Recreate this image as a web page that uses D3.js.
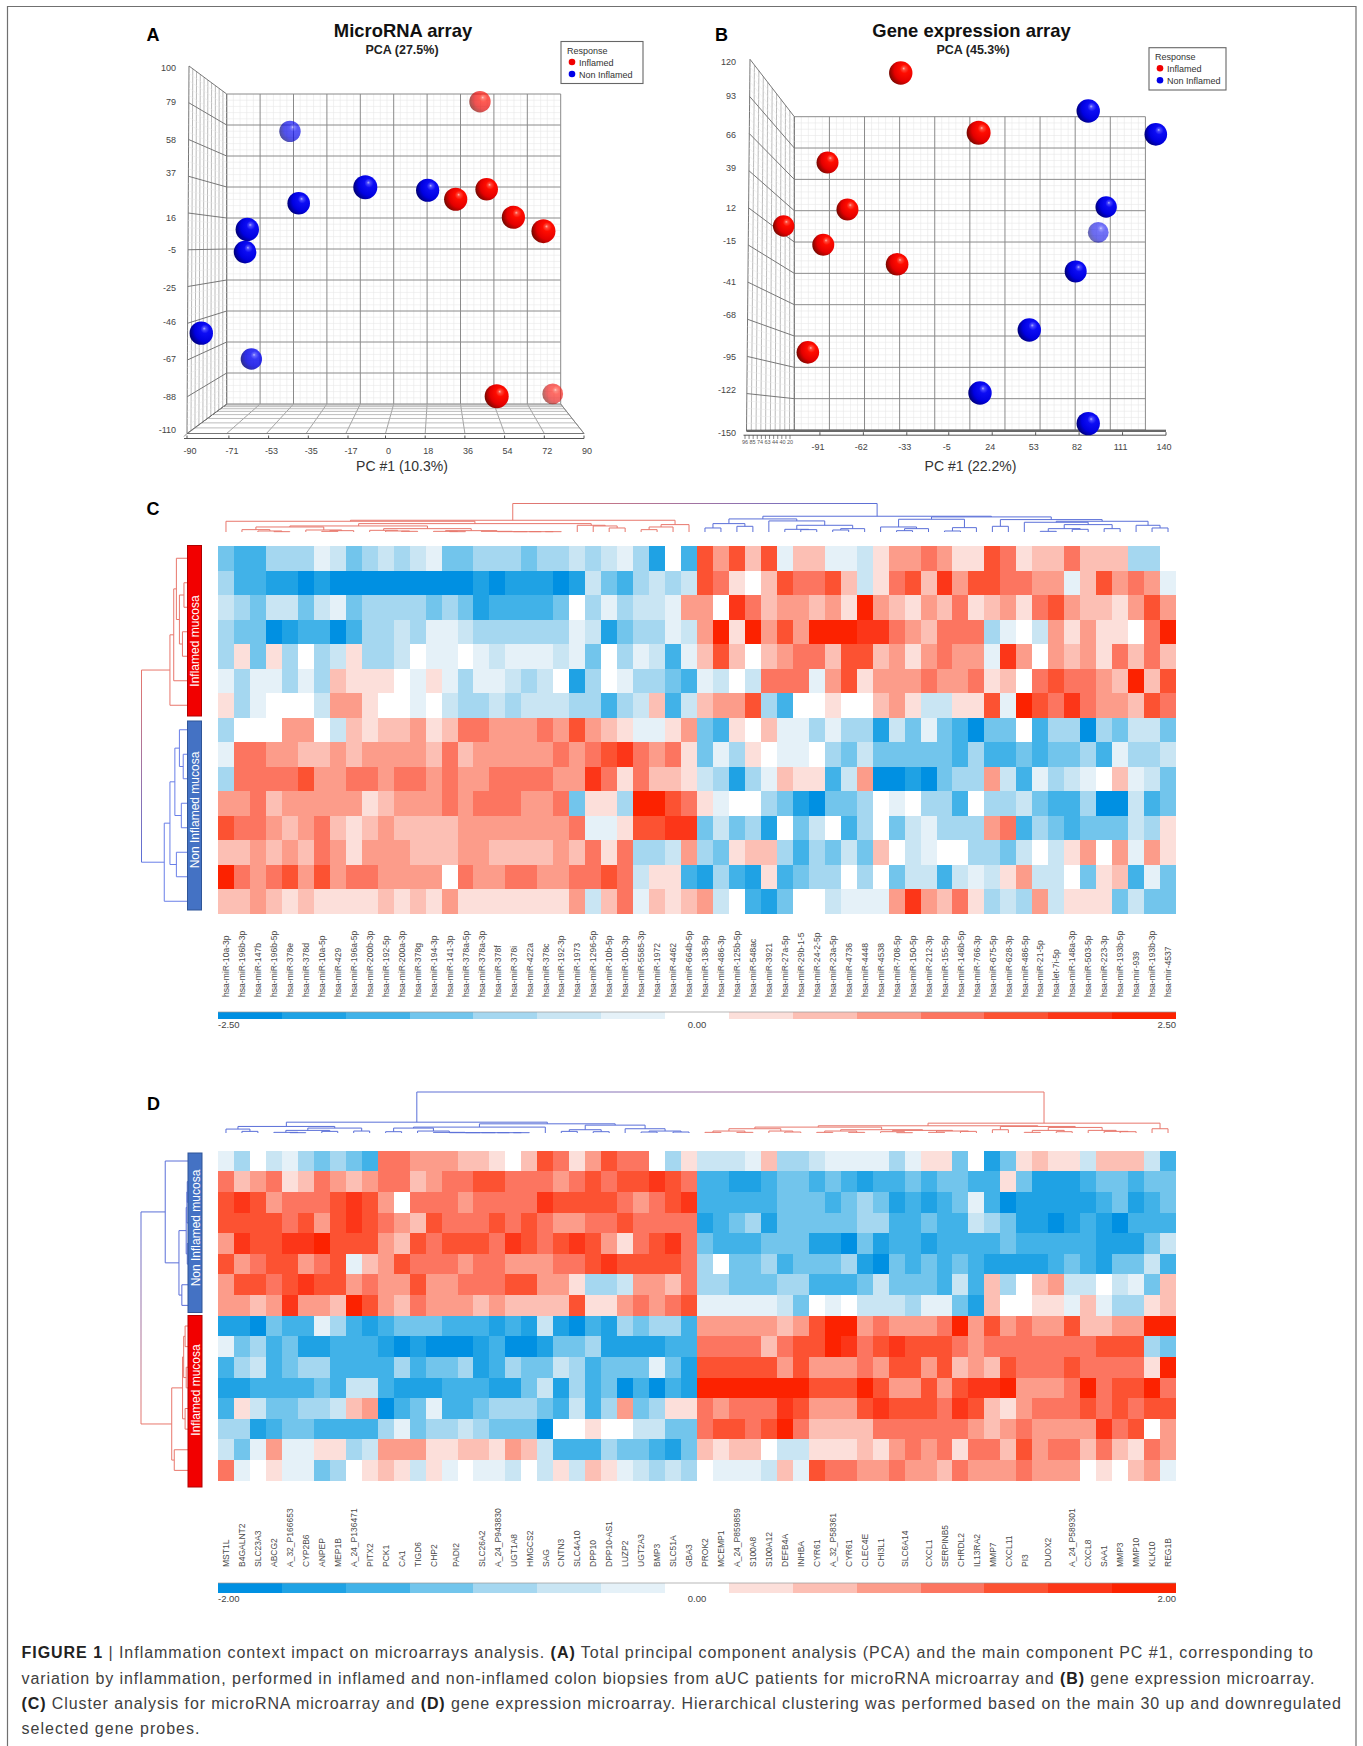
<!DOCTYPE html>
<html><head><meta charset="utf-8">
<script src="https://cdn.jsdelivr.net/npm/d3@7/dist/d3.min.js"></script>
<style>html,body{margin:0;padding:0;background:#fff}svg{display:block}text{font-family:"Liberation Sans",Arial,sans-serif}</style>
</head><body><svg id="fig" width="1363" height="1746"></svg>
<script>
// ---------- PCA data (PC1, PC2, radius weight, opacity) ----------
const pcaA_inflamed=[[46.5,94.8,10.7,.68],[50.1,35.5,11.3,1],[33.4,28.7,11.6,1],[64.5,16.5,11.6,1],[80.7,7.1,12,1],[55.5,-104.8,12,1],[85.7,-103.2,10.4,.6]];
const pcaA_non=[[-55.9,74.7,10.7,.68],[-15.3,36.8,12,1],[18.3,34.8,11.6,1],[-51.2,26,11.3,1],[-78.9,8.2,11.7,1],[-80.1,-7.1,11.3,1],[-103.7,-62,11.7,1],[-76.7,-79.5,10.7,.82]];
const pcaB_inflamed=[[-55.1,157.6,11.7,1],[7,106.2,12,1],[-113.5,80.6,11,1],[-97.6,40.1,11,1],[-148.5,25.8,10.7,1],[-116.9,9.7,11,1],[-58,-7.2,11.3,1],[-129.2,-83.1,11.3,1]];
const pcaB_non=[[94.4,124.9,11.7,1],[148.3,104.8,11.3,1],[108.7,42.2,10.7,1],[102.4,20.3,10.4,.58],[84.4,-13.3,11,1],[47.4,-63.8,11.7,1],[8.1,-118.1,11.7,1],[94.4,-144.5,11.7,1]];
const pcaA_xTicks=[-90,-71,-53,-35,-17,0,18,36,54,72,90];
const pcaA_yTicks=[100,79,58,37,16,-5,-25,-46,-67,-88,-110];
const pcaB_xTicks=[-140,-120,-91,-62,-33,-5,24,53,82,111,140];
const pcaB_yTicks=[120,93,66,39,12,-15,-41,-68,-95,-122,-150];
const responseLabels=["Inflamed","Non Inflamed"];

// ---------- Heat map C: levels -7..7, 15 rows x 60 columns ----------
const heatC=[
[-4,-5,-5,-3,-3,-3,-1,-2,-4,-3,-2,-3,-2,-1,-4,-4,-3,-3,-3,-4,-3,-3,-2,-3,-2,-1,-3,-6,0,-5,5,3,5,2,5,-1,2,2,-1,-1,-2,1,3,3,4,3,1,1,5,4,1,2,2,4,2,2,2,-3,-3,0],
[-3,-5,-5,-6,-6,-7,-6,-7,-7,-7,-7,-7,-7,-7,-7,-7,-6,-7,-6,-6,-6,-7,-6,-2,-4,-5,-3,-2,-3,-2,5,4,1,0,2,5,4,4,5,2,-2,1,4,5,2,6,3,5,5,4,4,3,3,-1,2,5,3,4,3,-1],
[-2,-3,-4,-2,-2,-4,-2,-1,-4,-3,-3,-3,-3,-4,-3,-4,-6,-5,-5,-5,-5,-4,0,-3,-1,-3,-2,-2,-1,3,3,0,6,4,2,3,3,2,3,1,7,3,2,1,3,2,4,1,2,3,1,4,5,3,2,2,1,3,5,3],
[-3,-4,-4,-7,-6,-5,-5,-7,-5,-3,-3,-2,-3,-1,-1,-2,-3,-3,-3,-3,-3,-3,-1,-2,-6,-4,-3,-3,-1,-2,3,7,1,7,3,5,3,7,7,7,6,6,4,3,2,4,4,4,-3,-1,0,-2,3,1,3,1,1,0,4,7],
[-3,1,-4,1,-3,0,-3,-2,1,-3,-3,-2,0,-1,-1,0,-1,-2,-1,-1,-1,-2,-1,-4,0,-3,-1,-2,-5,-1,2,5,2,0,2,3,4,4,2,5,5,2,3,1,3,4,3,3,-1,6,3,0,3,2,3,1,4,2,4,2],
[-1,-3,-1,-1,-3,-1,-3,2,1,1,1,0,-1,1,-1,-3,-1,-1,-2,-3,-2,0,-6,-3,0,-1,-3,-3,-4,-5,-1,-2,0,-2,4,4,4,-1,3,5,1,3,3,3,4,3,3,4,1,2,0,4,5,4,4,3,2,7,2,5],
[1,-3,-1,0,0,0,-2,3,3,1,0,0,-1,0,-2,-3,-3,-2,-3,-2,-2,-2,-3,-3,-5,-3,-2,2,-5,-2,2,3,3,5,-3,-5,0,0,1,0,0,2,3,1,-2,-2,1,1,5,-1,7,5,4,6,4,3,3,2,5,4],
[-3,0,0,0,3,3,0,-2,2,1,2,2,3,1,2,4,4,3,3,3,4,3,5,3,2,1,-1,-1,1,3,-4,-5,1,0,2,-1,-1,-3,-1,-3,-3,-6,-2,-4,-1,-4,-5,-7,-4,-4,0,-5,-3,-3,-7,-3,-4,-2,-2,-4],
[-1,4,4,3,3,2,2,3,2,3,3,3,3,2,4,2,3,3,3,3,3,4,3,4,5,6,4,3,4,1,-4,-1,-3,1,0,-1,-1,0,-3,-4,-2,-4,-4,-4,-4,-4,-5,-3,-5,-5,-4,-5,-4,-4,-3,-5,-1,-3,-3,-2],
[-3,4,4,4,4,5,3,3,4,4,3,4,4,3,4,3,3,4,4,4,4,3,3,6,4,1,4,2,2,1,-2,-3,-6,-3,-1,2,1,1,-5,-2,3,-7,-7,-6,-7,-4,-3,-3,3,-2,-5,-1,-3,-2,-1,0,2,-1,-2,-4],
[3,3,4,2,3,3,3,3,3,1,2,3,3,3,4,3,4,4,4,3,3,4,-4,1,1,-3,7,7,5,4,1,-1,0,0,-3,-4,-6,-7,-4,-4,-3,0,-1,0,-3,-3,-5,0,-3,-3,-2,-4,-5,-5,-3,-7,-7,-2,-5,-4],
[5,4,4,3,2,3,4,2,1,2,3,2,2,2,2,3,3,3,3,3,3,3,4,-1,-1,1,5,5,6,6,-4,-2,-4,-3,-6,0,-4,-2,0,-5,-3,0,-4,-2,-1,-3,-3,-3,3,4,-5,-3,-4,-5,-4,-4,-4,-2,-3,1],
[2,2,3,2,3,2,4,3,1,3,3,3,2,2,2,3,3,2,2,2,2,3,2,4,1,4,-3,-3,-2,3,-3,-4,1,2,2,-3,-5,-3,-4,-2,-4,2,0,-2,-1,0,0,-3,-3,-4,-2,0,-2,1,3,0,3,-1,3,1],
[7,4,3,4,5,3,5,3,4,4,3,3,3,3,0,4,3,3,4,4,3,3,4,4,5,4,-2,1,1,-5,-6,-3,-5,-6,1,-5,-4,-3,-3,0,-3,0,-4,-2,-2,-5,-2,-1,-2,1,3,-2,-2,0,-4,1,2,-5,-1,-4],
[2,2,3,2,1,2,1,1,1,1,2,1,2,1,3,1,1,1,1,1,1,1,3,-2,2,4,-1,2,1,2,3,-2,0,-5,-6,-4,0,0,-2,-1,-1,-1,3,6,3,2,4,1,-3,-2,-3,3,-2,1,1,1,-4,-2,-4,-4]
];
// ---------- Heat map D: levels -7..7, 16 rows x 60 columns ----------
const heatD=[
[-1,-3,0,-2,-1,-3,-4,-3,-4,-5,4,4,3,3,3,2,2,1,0,2,5,4,1,3,5,4,4,0,-3,1,-2,-2,-2,-1,2,-3,-3,-2,-1,-1,-1,-1,-3,-1,1,1,-4,0,-6,-4,1,2,1,1,-2,2,2,2,-2,-5],
[4,2,3,4,1,2,4,3,2,3,4,4,2,3,4,4,5,5,4,4,4,3,4,5,4,5,5,6,5,4,-5,-5,-6,-6,-5,-4,-4,-5,-4,-5,-6,-5,-5,-4,-5,-4,-4,-5,-5,1,-4,-6,-6,-6,-5,-4,-4,-5,-4,-4],
[5,6,5,3,4,4,4,5,6,5,3,0,4,4,4,3,4,4,4,4,6,5,5,5,5,4,3,4,5,6,-5,-5,-5,-5,-5,-4,-4,-4,-5,-4,-3,-4,-6,-5,-6,-5,-4,-1,-5,-7,-6,-6,-6,-6,-6,-5,-4,-6,-5,-4],
[5,5,5,5,4,5,3,5,6,5,4,3,2,5,4,4,4,5,4,5,4,3,3,4,4,5,4,4,4,4,-6,-5,-4,-3,-6,-4,-4,-4,-4,-4,-3,-3,-5,-5,-4,-5,-5,-2,-3,-4,-6,-6,-7,-6,-5,-6,-7,-5,-5,-5],
[3,6,5,5,6,6,7,5,5,5,3,2,5,4,5,5,5,4,6,5,4,5,6,5,3,1,4,5,6,4,-4,-5,-5,-5,-4,-4,-4,-6,-6,-7,-4,-6,-5,-5,-6,-5,-5,-5,-5,-4,-5,-5,-5,-5,-5,-6,-6,-6,-4,-2],
[5,3,4,5,5,3,4,5,-1,2,3,5,4,4,4,3,4,4,3,3,3,4,4,5,6,5,5,5,5,4,-3,0,-4,-4,-3,-5,-4,-4,-4,-3,-6,-7,-4,-5,-4,-5,-4,-5,-6,-6,-6,-6,-5,-4,-5,-6,-4,-4,-2,-5],
[3,5,5,4,5,6,5,5,3,4,3,3,5,3,3,4,4,4,5,5,3,3,1,-3,-3,-2,3,3,2,4,-3,-3,-4,-4,-4,-3,-3,-5,-5,-5,-4,-2,-4,-4,-4,-5,-2,-5,2,-3,0,2,3,-2,-2,0,-2,-1,-4,2],
[3,3,2,3,6,3,3,2,7,5,3,2,4,3,3,3,2,3,2,2,2,2,5,1,1,3,4,3,4,5,-1,-1,-1,-1,-1,-2,-4,0,-1,0,-2,-2,-2,-3,-1,-1,-4,-6,2,0,0,1,1,-1,2,-1,-3,-3,1,2],
[-6,-6,-7,-4,-5,-5,-1,-3,-5,-6,-5,-4,-4,-4,-5,-5,-5,-6,-5,-6,-2,-6,-7,-5,-6,-3,-4,-3,-3,-5,3,3,3,3,3,2,3,5,7,7,3,4,3,3,3,4,7,3,5,3,4,3,3,5,2,2,3,3,7,7],
[-1,-4,-3,-5,-4,-6,-6,-5,-5,-5,-6,-7,-6,-7,-7,-7,-6,-5,-7,-7,-6,-4,-4,-3,-6,-6,-6,-6,-5,-5,4,4,4,4,2,4,5,5,7,6,4,5,6,5,5,5,4,3,4,4,4,4,4,4,4,5,5,5,-3,-4],
[-5,-3,-2,-5,-4,-3,-3,-5,-5,-5,-5,-3,-5,-4,-4,-3,-6,-5,-3,-4,-4,-2,-3,-5,-4,-4,-4,-1,-4,-6,5,5,5,5,5,3,5,3,3,3,4,3,5,5,3,5,2,3,2,5,4,4,4,5,4,4,4,4,1,7],
[-6,-6,-5,-5,-5,-5,-4,-5,-2,-2,-5,-6,-6,-6,-5,-5,-5,-6,-6,-4,-2,-6,-3,-5,-4,-7,-5,-7,-5,-6,7,7,7,7,7,7,7,5,5,5,7,5,3,3,5,3,5,6,6,7,3,3,3,4,7,4,5,5,7,4],
[-5,1,-2,-4,-4,-3,-3,-2,2,3,-7,-5,-4,-1,-5,-5,-4,-3,-3,-3,-4,-5,-2,-5,-3,3,-4,-3,1,1,4,3,4,4,4,6,5,3,3,3,5,6,5,5,5,4,6,5,2,1,3,4,4,4,5,4,5,4,5,5],
[-3,-3,-6,-5,-4,-4,-5,-5,-5,-5,-3,-1,-4,-3,-3,-2,-3,-4,-4,-4,-7,0,0,1,0,0,-2,-2,-4,-4,4,5,5,4,5,7,4,2,2,2,2,4,4,4,4,4,4,3,2,3,4,3,3,3,3,6,4,5,0,3],
[-2,-4,-1,3,-1,-1,1,1,-3,-2,3,3,3,1,1,2,2,1,3,2,-2,-5,-5,-5,-3,-4,-4,-5,-6,-4,2,1,2,2,0,-2,-2,1,1,1,2,1,3,4,3,4,1,4,4,2,5,3,4,4,2,4,2,1,4,3],
[4,-1,0,1,-1,-1,-4,-3,0,1,2,1,-2,1,-1,0,-1,-1,-2,0,-2,1,-2,2,1,-1,-2,-3,-2,-3,0,-1,-1,-1,-2,2,-1,5,4,4,3,3,4,3,3,2,4,3,3,3,4,3,3,3,0,1,0,2,3,-1]
];
const labelsC=["hsa-miR-10a-3p","hsa-miR-196b-3p","hsa-miR-147b","hsa-miR-196b-5p","hsa-miR-378e","hsa-miR-378d","hsa-miR-10a-5p","hsa-miR-429","hsa-miR-196a-5p","hsa-miR-200b-3p","hsa-miR-192-5p","hsa-miR-200a-3p","hsa-miR-378g","hsa-miR-194-3p","hsa-miR-141-3p","hsa-miR-378a-5p","hsa-miR-378a-3p","hsa-miR-378f","hsa-miR-378i","hsa-miR-422a","hsa-miR-378c","hsa-miR-192-3p","hsa-miR-1973","hsa-miR-1296-5p","hsa-miR-10b-5p","hsa-miR-10b-3p","hsa-miR-5585-3p","hsa-miR-1972","hsa-miR-4462","hsa-miR-664b-5p","hsa-miR-138-5p","hsa-miR-486-3p","hsa-miR-125b-5p","hsa-miR-548ac","hsa-miR-3921","hsa-miR-27a-5p","hsa-miR-29b-1-5","hsa-miR-24-2-5p","hsa-miR-23a-5p","hsa-miR-4736","hsa-miR-4448","hsa-miR-4538","hsa-miR-708-5p","hsa-miR-150-5p","hsa-miR-212-3p","hsa-miR-155-5p","hsa-miR-146b-5p","hsa-miR-766-3p","hsa-miR-675-5p","hsa-miR-628-3p","hsa-miR-486-5p","hsa-miR-21-5p","hsa-let-7i-5p","hsa-miR-148a-3p","hsa-miR-503-5p","hsa-miR-223-3p","hsa-miR-193b-5p","hsa-mir-939","hsa-miR-193b-3p","hsa-mir-4537"];
const labelsD=["MST1L","B4GALNT2","SLC23A3","ABCG2","A_32_P166653","CYP2B6","ANPEP","MEP1B","A_24_P136471","PITX2","PCK1","CA1","TIGD6","CHP2","PADI2","SLC26A2","A_24_P943830","UGT1A8","HMGCS2","SAG","CNTN3","SLC4A10","DPP10","DPP10-AS1","LUZP2","UGT2A3","BMP3","SLC51A","GBA3","PROK2","MCEMP1","A_24_P859859","S100A8","S100A12","DEFB4A","INHBA","CYR61","A_32_P58361","CYR61","CLEC4E","CHI3L1","SLC6A14","CXCL1","SERPINB5","CHRDL2","IL13RA2","MMP7","CXCL11","PI3","DUOX2","A_24_P589301","CXCL8","SAA1","MMP3","MMP10","KLK10","REG1B"];
const labelColsD=[0,1,2,3,4,5,6,7,8,9,10,11,12,13,14.4,16,17,18,19,20,21,22,23,24,25,26,27,28,29,30,31,32,33,34,35,36,37,38,39,40,41,42.5,44,45,46,47,48,49,50,51.5,53,54,55,56,57,58,59];
const heatPalette=["#0090e2","#1fa2e4","#41b2e8","#72c5ec","#a5d7f0","#c9e5f3","#e5f1f8","#ffffff","#fcdfda","#fcbfb4","#fc9c8a","#fc7560","#fc5232","#fc3618","#fc2200"];

// Dendrograms: nested [mergeHeight, left, right]; a plain number is a leaf index
const treeTopC=[85,
 [35,[32,0,[25,[18,[15,[7,1,[3,2,[1,3,4]]],[6,5,[4,[2,6,7],8]]],[10,[5,9,[3,10,[2,11,12]]],[4,[2,13,[1,14,15]],[2,16,[1,17,[1,18,[1,19,[1,20,21]]]]]]]],[20,22,[18,23,[12,24,25]]]]],[22,[15,[7,26,27],28],29]],
 [47,[39,[25,[12,30,31],[17,32,33]],[33,34,[20,[8,35,[7,36,37]],[10,[6,38,39],40]]]],
     [45,[38,[15,41,[10,[4,42,43],44]],[13,[3,45,46],47]],[37,[17,48,49],[32,[29,50,[22,[10,[2,51,52],[8,53,54]],[10,55,56]]],[20,57,[12,58,59]]]]]]];
const treeTopD=[125,
 [33,[20,[12,0,[5,1,2]],[15,[8,[2,3,[1,4,5]],[5,6,7]],[6,8,9]]],
     [28,[18,[15,[4,10,11],[6,12,[2,13,[1,14,[1,15,[1,16,[1,17,[1,18,19]]]]]]]],20],
         [24,[10,[5,21,22],[4,23,24]],[13,25,[6,[3,26,27],[3,28,29]]]]]],
 [30,[22,[18,[13,[6,[2,30,31],[2,32,33]],[6,34,[3,35,36]]],[10,[6,[2,37,38],[2,39,40]],[8,[4,41,[1,42,43]],[6,[2,44,45],[5,46,47]]]]],
         [20,[10,48,49],[17,[8,[2,50,51],[4,52,53]],[8,54,[5,55,[4,56,57]]]]]],
     [13,58,59]]];
const treeSideC=[120,
 [45,[35,[28,0,[20,[8,1,2],[12,3,4]]],5],6],
 [60,[45,[32,[20,7,[10,8,9]],[15,10,11]],[28,12,13]],14]];
const treeSideD=[130,
 [63,0,[25,[5,[3,[2,1,2],3],[2,4,5]],[17,6,7]]],
 [45,[15,[12,[8,8,9],[5,10,11]],[8,12,13]],[38,14,15]]];

const captionLines=[
 [["FIGURE 1",1]," | Inflammation context impact on microarrays analysis. ",["(A)",1]," Total principal component analysis (PCA) and the main component PC #1, corresponding to"],
 ["variation by inflammation, performed in inflamed and non-inflamed colon biopsies from aUC patients for microRNA microarray and ",["(B)",1]," gene expression microarray."],
 [["(C)",1]," Cluster analysis for microRNA microarray and ",["(D)",1]," gene expression microarray. Hierarchical clustering was performed based on the main 30 up and downregulated"],
 ["selected gene probes."]];

// ---------- drawing ----------
const svg=d3.select("#fig");
const defs=svg.append("defs");
function sphereGrad(id,c){const g=defs.append("radialGradient").attr("id",id).attr("cx",.8).attr("cy",.42).attr("r",.95).attr("fx",.62).attr("fy",.3);
 c.forEach(([o,col])=>g.append("stop").attr("offset",o).attr("stop-color",col));}
sphereGrad("gr",[[0,"#ffb4ac"],[.07,"#ff4838"],[.2,"#ff0c00"],[.52,"#e40000"],[.8,"#7a0800"],[1,"#140000"]]);
sphereGrad("gb",[[0,"#b4b4ff"],[.07,"#4848ff"],[.2,"#0c0cf4"],[.52,"#0000e0"],[.8,"#00007a"],[1,"#000020"]]);
function rootGradient(id,c0,c1){const g=defs.append("linearGradient").attr("id",id).attr("gradientUnits","userSpaceOnUse");
 g.append("stop").attr("offset",0).attr("stop-color",c0);g.append("stop").attr("offset",1).attr("stop-color",c1);}
const RED="#e8776c",BLUE="#5a6fd8";
rootGradient("rootC",RED,BLUE);rootGradient("rootD",BLUE,RED);rootGradient("rootVC",RED,BLUE);rootGradient("rootVD",BLUE,RED);

// frame
svg.append("path").attr("d","M7.5,1746V6.5H1356V1746").attr("fill","none").attr("stroke","#707070").attr("stroke-width",1.2);

function line(g,x1,y1,x2,y2,stroke,w){g.append("line").attr("x1",x1).attr("y1",y1).attr("x2",x2).attr("y2",y2).attr("stroke",stroke).attr("stroke-width",w);}

function pca(o){
 const g=svg.append("g");
 const x=d3.scaleLinear().domain(o.xDom).range(o.wall.x);
 const y=d3.scaleLinear().domain(o.yDom).range(o.wall.y);
 const w=o.wall, f=o.front;
 const fr=t=>f.bx+(f.rx-f.bx)*t;
 const divs=d3.range(0,1.0001,.1), minor=d3.range(0,1.0001,.02);
 const wx=t=>w.x[0]+(w.x[1]-w.x[0])*t, wy=t=>w.y[1]+(w.y[0]-w.y[1])*t;
 const lwTop=t=>[f.tx+(w.x[0]-f.tx)*t, f.ty+(w.y[1]-f.ty)*t];
 const lwBot=t=>[f.bx+(w.x[0]-f.bx)*t, f.by+(w.y[0]-f.by)*t];
 minor.forEach(t=>{if(Math.round(t*50)%5){line(g,wx(t),w.y[1],wx(t),w.y[0],"#e8e8e8",.6);line(g,w.x[0],wy(t),w.x[1],wy(t),"#e8e8e8",.6);}});
 divs.forEach(t=>{line(g,wx(t),w.y[1],wx(t),w.y[0],"#8a8a8a",1);line(g,w.x[0],wy(t),w.x[1],wy(t),"#8a8a8a",1);});
 d3.range(0,1.0001,.1).forEach(t=>{const a=lwTop(t),b=lwBot(t);line(g,a[0],a[1],b[0],b[1],t==0||t==1?"#777":"#aaa",t==0||t==1?1:.8);});
 divs.forEach(t=>{const a=[f.tx+(f.bx-f.tx)*t,f.ty+(f.by-f.ty)*t],b=[w.x[0],w.y[1]+(w.y[0]-w.y[1])*t];line(g,a[0],a[1],b[0],b[1],"#777",1);});
 d3.range(.02,1,.02).forEach(t=>{if(Math.round(t*50)%5){const a=[f.tx+(f.bx-f.tx)*t,f.ty+(f.by-f.ty)*t],b=[w.x[0],w.y[1]+(w.y[0]-w.y[1])*t];line(g,a[0],a[1],b[0],b[1],"#e8e8e8",.5);}});
 if(o.floorLines){
  divs.forEach(t=>{line(g,fr(t),f.by,wx(t),w.y[0],"#999",.9);});
  d3.range(.1,1,.1).forEach(t=>{const yy=w.y[0]+(f.by-w.y[0])*t*t,xl=w.x[0]+(f.bx-w.x[0])*t*t,xr=w.x[1]+(f.rx-w.x[1])*t*t;line(g,xl,yy,xr,yy,"#aaa",.8);});
  line(g,w.x[1],w.y[0],f.rx,f.by,"#888",1);
 } else {line(g,f.bx,f.by,f.rx,f.by,"#333",2);}
 line(g,f.bx,f.by,f.rx,f.by,"#777",1);
 const ax=d3.scaleLinear().domain(o.xAxisDom).range([f.bx,f.rx]);
 const ag=g.append("g").attr("transform",`translate(0,${f.by+o.axisGap})`).attr("font-size",9).attr("fill","#444");
 ag.append("line").attr("x1",f.bx-3).attr("x2",f.rx).attr("stroke","#555").attr("stroke-width",1);
 o.xLabelPos.forEach((v,i)=>{ if(o.xTicks[i]==null) return;
  ag.append("line").attr("x1",ax(v)).attr("x2",ax(v)).attr("y2",-3).attr("stroke","#555");
  ag.append("text").attr("x",ax(v)+o.xTextDx).attr("y",o.xTextY).attr("text-anchor","middle").text(o.xTicks[i]);});
 o.yTicks.forEach((v,i)=>{g.append("text").attr("x",o.yLabelX).attr("y",o.yLabelYs[i]+3).attr("text-anchor","end").attr("font-size",9).attr("fill","#444").text(v);});
 const draw=(arr,fill)=>g.append("g").selectAll("circle").data(arr).join("circle")
  .attr("cx",d=>x(d[0])).attr("cy",d=>y(d[1])).attr("r",d=>d[2]).attr("fill",`url(#${fill})`).attr("opacity",d=>d[3]);
 draw(o.red,"gr");draw(o.blue,"gb");
 g.append("text").attr("x",o.titleX).attr("y",37).attr("text-anchor","middle").attr("font-weight","bold").attr("font-size",18.4).attr("fill","#111").text(o.title);
 g.append("text").attr("x",o.subX).attr("y",53.5).attr("text-anchor","middle").attr("font-weight","bold").attr("font-size",12.5).attr("fill","#222").text(o.sub);
 g.append("text").attr("x",o.titleX-1).attr("y",470.5).attr("text-anchor","middle").attr("font-size",14).attr("fill","#333").text(o.xLabel);
 const l=g.append("g").attr("transform",`translate(${o.legend[0]},${o.legend[1]})`);
 l.append("rect").attr("width",o.legend[2]).attr("height",o.legend[3]).attr("fill","#fff").attr("stroke","#666").attr("stroke-width",1.1);
 l.append("text").attr("x",6).attr("y",12.5).attr("font-size",9).attr("font-family","Open Sans").attr("fill","#333").text("Response");
 responseLabels.forEach((t,i)=>{l.append("circle").attr("cx",11).attr("cy",20.5+i*12).attr("r",3.3).attr("fill",i?"#0000e8":"#f00000");
  l.append("text").attr("x",18).attr("y",24+i*12).attr("font-size",9).attr("font-family","Open Sans").attr("fill","#333").text(t);});
}
pca({xDom:[-90,90],yDom:[-110,100],wall:{x:[226.7,560.7],y:[404,94]},front:{tx:189,ty:66,bx:187,by:433.5,rx:584},
 red:pcaA_inflamed,blue:pcaA_non,floorLines:true,xAxisDom:[-90,90],xLabelPos:pcaA_xTicks,xTicks:pcaA_xTicks,axisGap:5,xTextDx:3,xTextY:15,
 yTicks:pcaA_yTicks,yLabelX:176,yLabelYs:[68,101.5,139.5,173,217.5,250,288,322,359,397,430],
 titleX:403,subX:402,title:"MicroRNA array",sub:"PCA (27.5%)",xLabel:"PC #1 (10.3%)",legend:[561,41.5,82,42]});
pca({xDom:[-140,140],yDom:[-150,120],wall:{x:[794.3,1145.4],y:[430,116.7]},front:{tx:750,ty:59.3,bx:746.5,by:430.7,rx:1166},
 red:pcaB_inflamed,blue:pcaB_non,floorLines:false,xAxisDom:[-140,140],xLabelPos:pcaB_xTicks,xTicks:pcaB_xTicks.map((v,i)=>i<2?null:v),axisGap:4.5,xTextDx:-2,xTextY:15,
 yTicks:pcaB_yTicks,yLabelX:736,yLabelYs:[62.3,95.7,135,168.3,207.7,241,281.7,315,356.7,390,432.7],
 titleX:971.5,subX:973,title:"Gene expression array",sub:"PCA (45.3%)",xLabel:"PC #1 (22.2%)",legend:[1149,47.7,77,42.3]});
// depth-axis labels squeezed along the front of panel B's floor
const depthB=["96","85","74","63","44","40","20"];
const dbx=d3.scalePoint().domain(depthB).range([745,790]);
svg.append("g").attr("font-size",5.5).attr("fill","#555").selectAll("text").data(depthB).join("text").attr("x",d=>dbx(d)).attr("y",443.5).attr("text-anchor","middle").text(d=>d);
const depthTicks=d3.range(12);
const dtx=d3.scaleLinear().domain([0,11]).range([745,790]);
svg.append("g").attr("stroke","#555").attr("stroke-width",.7).selectAll("line").data(depthTicks).join("line").attr("x1",d=>dtx(d)).attr("x2",d=>dtx(d)).attr("y1",435).attr("y2",439);
// depth-axis ticks along panel A's left floor edge
const dax=d3.scaleLinear().domain([0,11]).range([187,226.7]),day=d3.scaleLinear().domain([0,11]).range([433.5,404]);
svg.append("g").attr("stroke","#555").attr("stroke-width",.7).selectAll("line").data(depthTicks).join("line").attr("x1",d=>dax(d)-3).attr("x2",d=>dax(d)).attr("y1",d=>day(d)+3).attr("y2",d=>day(d));
[["A",153,41],["B",721.5,41],["C",153,515],["D",153.5,1110]].forEach(d=>svg.append("text").attr("x",d[1]).attr("y",d[2]).attr("text-anchor","middle").attr("font-weight","bold").attr("font-size",18).attr("fill","#000").text(d[0]));

function toNodes(t){
 if(typeof t==="number") return {leaf:t,h:0,pos:t+.5};
 const a=toNodes(t[1]),b=toNodes(t[2]);
 return {h:t[0],a,b,pos:(a.pos+b.pos)/2};
}
function drawTree(g,tree,pos,hgt,horizontal,colA,colB,rootId){
 const root=toNodes(tree);
 const path=(n,color,isRoot)=>{
  if(n.leaf!=null) return;
  const pa=pos(n.a.pos),pb=pos(n.b.pos),h=hgt(n.h),ha=hgt(n.a.h),hb=hgt(n.b.h);
  const dA=horizontal?`M${pa},${ha}V${h}`:`M${ha},${pa}H${h}`;
  const dB=horizontal?`M${pb},${hb}V${h}`:`M${hb},${pb}H${h}`;
  const dT=horizontal?`M${pa},${h}H${pb}`:`M${h},${pa}V${pb}`;
  const cA=isRoot?colA:color,cB=isRoot?colB:color;
  if(isRoot){const gr=defs.select("#"+rootId);
   if(horizontal) gr.attr("x1",pa).attr("x2",pb).attr("y1",h).attr("y2",h);
   else gr.attr("x1",h).attr("x2",h).attr("y1",pa).attr("y2",pb);}
  g.append("path").attr("d",dA).attr("stroke",cA);
  g.append("path").attr("d",dB).attr("stroke",cB);
  g.append("path").attr("d",dT).attr("stroke",isRoot?`url(#${rootId})`:color);
  path(n.a,cA,false);path(n.b,cB,false);
 };
 path(root,null,true);
}
function heat(o){
 const g=svg.append("g");
 const x=d3.scaleBand().domain(d3.range(60)).range([218,1176]);
 const y=d3.scaleBand().domain(d3.range(o.data.length)).range(o.yRange);
 const col=d3.scaleQuantize().domain([-7.5,7.5]).range(heatPalette);
 const rows=g.append("g").attr("shape-rendering","crispEdges").selectAll("g").data(o.data).join("g").attr("transform",(d,i)=>`translate(0,${y(i)})`);
 rows.selectAll("rect").data(d=>d).join("rect").attr("x",(d,i)=>x(i)).attr("width",x.bandwidth()+.3).attr("height",y.bandwidth()+.3).attr("fill",d=>col(d));
 const t=g.append("g").attr("fill","none").attr("stroke-width",1);
 const colPos=d3.scaleLinear().domain([0,60]).range([218,1176]);
 drawTree(t,o.treeTop,p=>colPos(p),d3.scaleLinear().domain([0,o.treeTop[0]]).range(o.topRange),true,o.topCols[0],o.topCols[1],o.rootTop);
 const s=g.append("g").attr("fill","none").attr("stroke-width",1);
 const rowPos=d3.scaleLinear().domain([0,o.data.length]).range(o.yRange);
 drawTree(s,o.treeSide,p=>rowPos(p),d3.scaleLinear().domain([0,o.treeSide[0]]).range(o.sideRange),false,o.sideCols[0],o.sideCols[1],o.rootSide);
 o.bars.forEach(b=>{g.append("rect").attr("x",o.barX).attr("y",b.y0).attr("width",14).attr("height",b.y1-b.y0).attr("fill",b.fill).attr("stroke",b.stroke).attr("stroke-width",1);
  g.append("text").attr("transform",`translate(${o.barX+11.5},${(b.tc)}) rotate(-90)`).attr("text-anchor","middle").attr("font-size",12).attr("fill","#fff").text(b.label);});
 const lg=g.append("g").attr("font-size",o.labelFont).attr("fill","#4a4a4a");
 o.labels.forEach((l,i)=>{lg.append("text").attr("transform",`translate(${colPos(o.labelCols[i]+.5)+3.2},${o.labelY}) rotate(-90)`).text(l);});
 const cb=d3.scaleBand().domain(d3.range(heatPalette.length)).range([218,1176]);
 g.append("g").attr("shape-rendering","crispEdges").selectAll("rect").data(heatPalette).join("rect").attr("x",(d,i)=>cb(i)).attr("y",o.barY).attr("width",cb.bandwidth()+.3).attr("height",o.barH).attr("fill",d=>d);
 line(g,218,o.barY,1176,o.barY,"#999",.7);
 [[o.ticks[0],218,"start"],[o.ticks[1],697,"middle"],[o.ticks[2],1176,"end"]].forEach(d=>g.append("text").attr("x",d[1]).attr("y",o.barY+o.barH+o.tickDy).attr("text-anchor",d[2]).attr("font-size",9.5).attr("fill","#444").text(d[0]));
}
heat({data:heatC,yRange:[546,913.5],treeTop:treeTopC,topRange:[532,503.5],topCols:[RED,BLUE],rootTop:"rootC",
 treeSide:treeSideC,sideRange:[187,141.5],sideCols:[RED,"#6a7fe8"],rootSide:"rootVC",barX:187.5,
 bars:[{y0:545.5,y1:716,fill:"#f20000",stroke:"#b00000",label:"Inflamed mucosa",tc:641},{y0:721,y1:910,fill:"#4472c4",stroke:"#2f5597",label:"Non Inflamed mucosa",tc:810}],
 labels:labelsC,labelCols:d3.range(60),labelFont:8.6,labelY:997,barY:1012,barH:7,ticks:["-2.50","0.00","2.50"],tickDy:9});
heat({data:heatD,yRange:[1150.7,1480.7],treeTop:treeTopD,topRange:[1133,1092],topCols:[BLUE,RED],rootTop:"rootD",
 treeSide:treeSideD,sideRange:[188,141],sideCols:[BLUE,RED],rootSide:"rootVD",barX:188,
 bars:[{y0:1153,y1:1312.5,fill:"#4472c4",stroke:"#2f5597",label:"Non Inflamed mucosa",tc:1228},{y0:1315.5,y1:1487,fill:"#f20000",stroke:"#b00000",label:"Inflamed mucosa",tc:1390}],
 labels:labelsD,labelCols:labelColsD,labelFont:8.5,labelY:1567,barY:1583,barH:9.5,ticks:["-2.00","0.00","2.00"],tickDy:9});

const cap=svg.append("g").attr("font-size",16).attr("fill","#404040");
const capY=[1658,1684,1709,1734], capW=[1291.5,1293,1319.5,178];
captionLines.forEach((ln,i)=>{const t=cap.append("text").attr("x",21.5).attr("y",capY[i]).attr("textLength",capW[i]).attr("lengthAdjust","spacing");
 ln.forEach(p=>{const isB=Array.isArray(p);t.append("tspan").attr("font-weight",isB?"bold":null).attr("fill",isB?"#222":null).text(isB?p[0]:p);});});
</script></body></html>
